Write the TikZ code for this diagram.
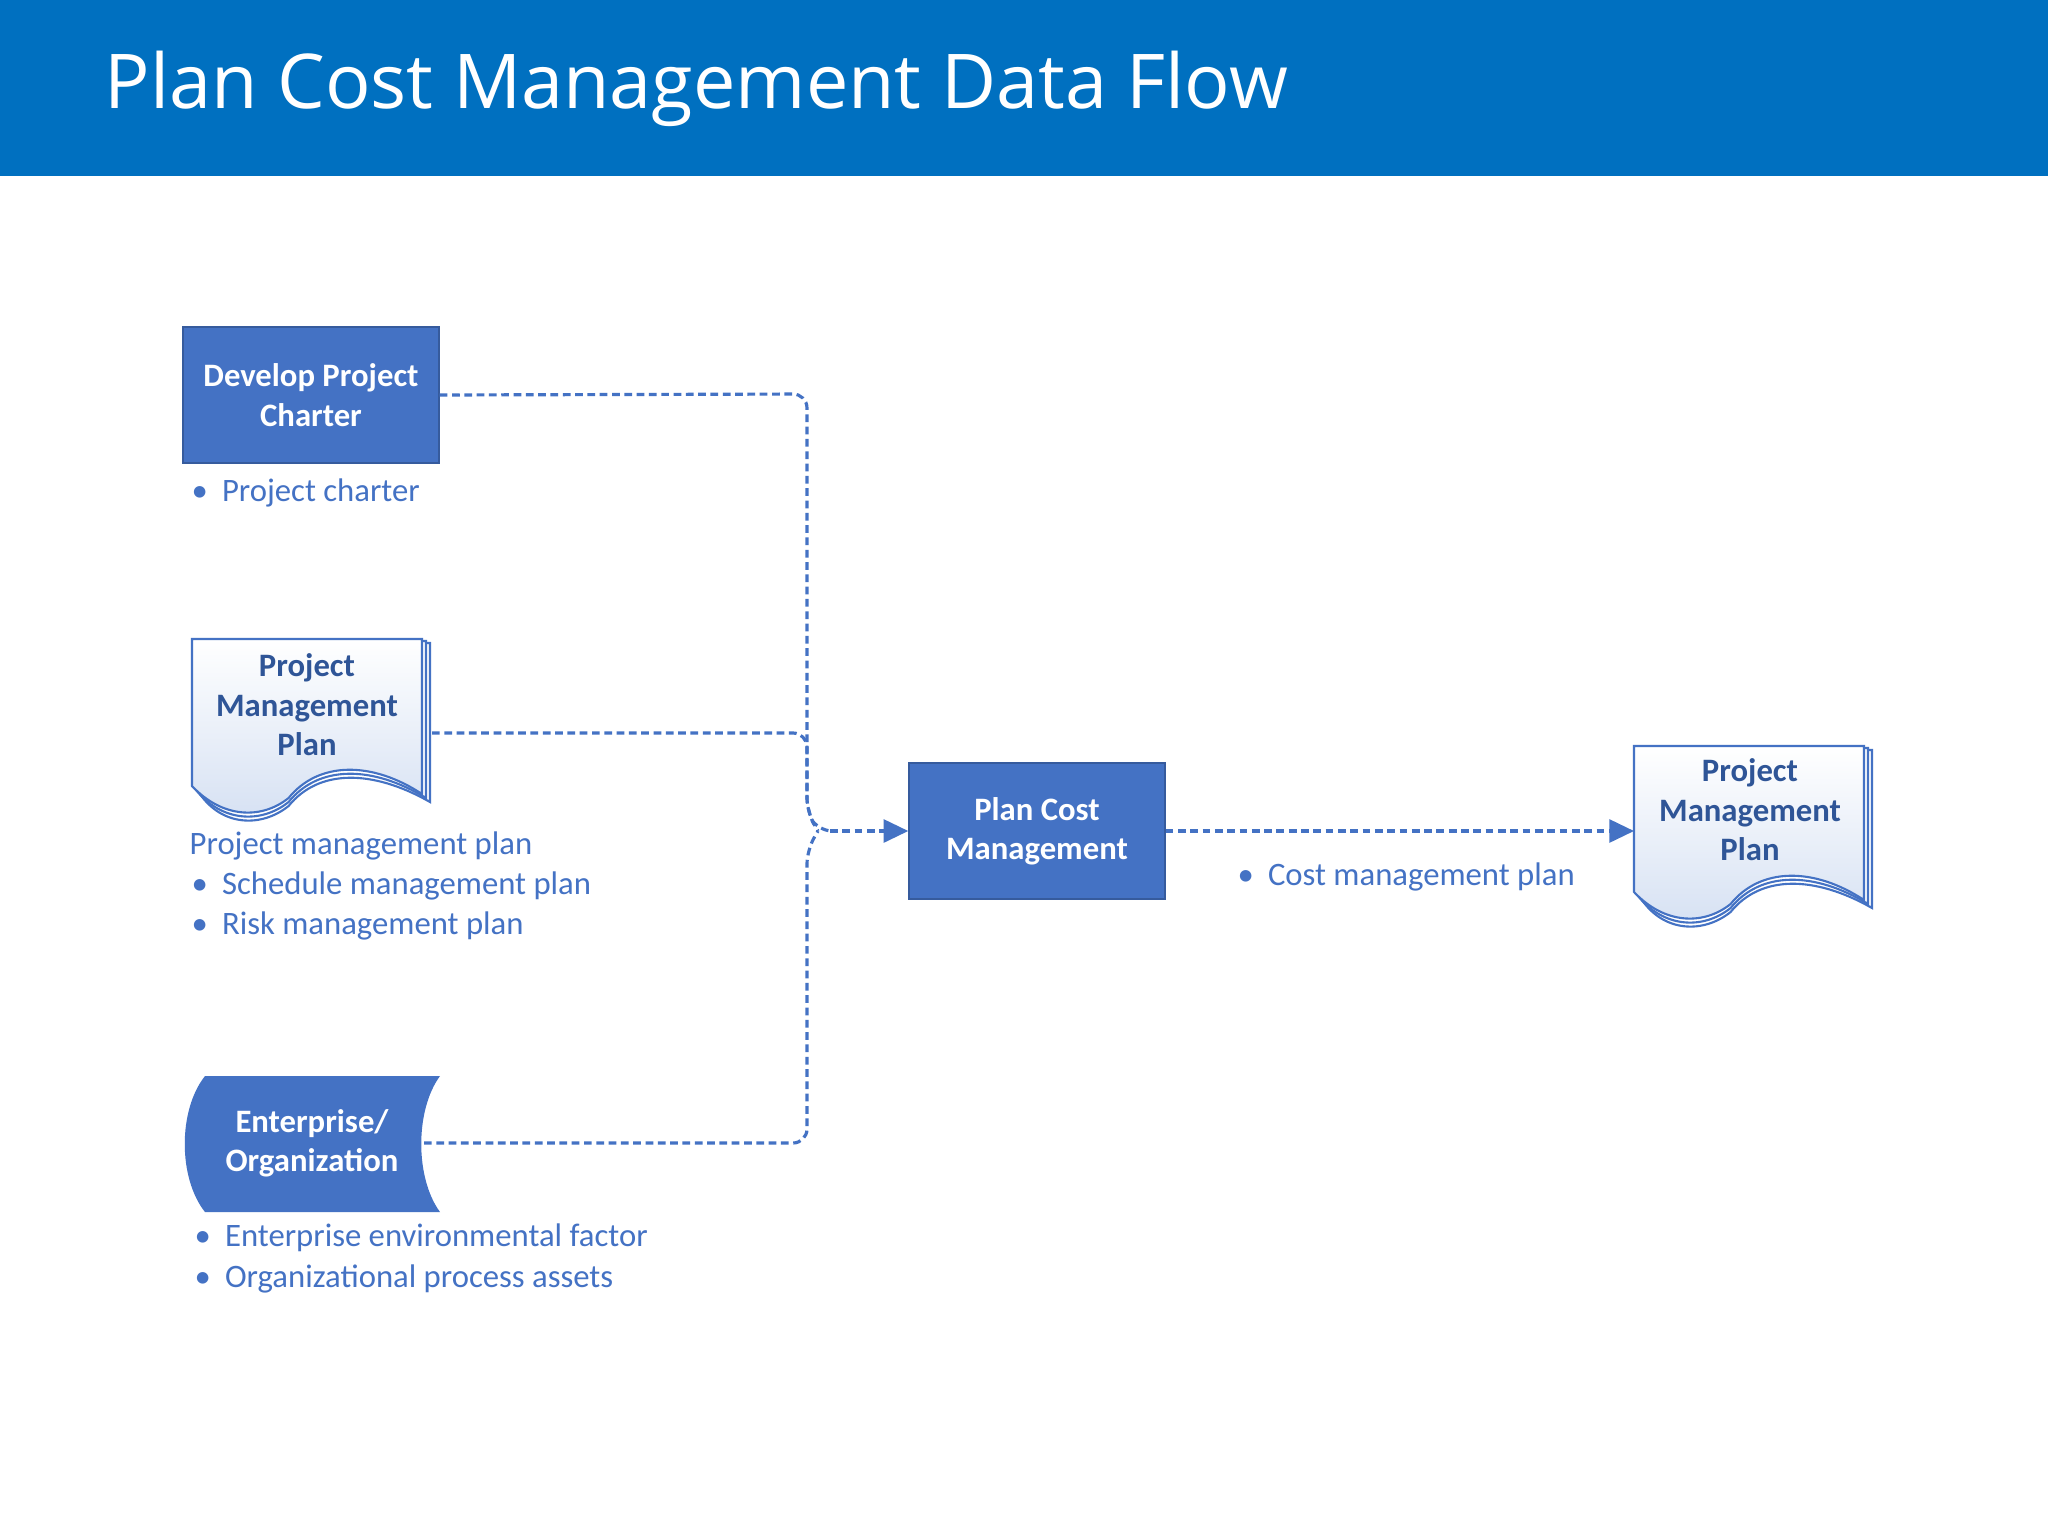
\documentclass[tikz,border=0pt]{standalone}
\usepackage{fontspec}
\setmainfont{Carlito}
\newfontfamily\titlefont{Open Sans}
\usetikzlibrary{arrows.meta}
\definecolor{barblue}{HTML}{0070C0}
\definecolor{boxblue}{HTML}{4472C4}
\definecolor{docblue}{HTML}{2F5597}
\definecolor{lightdoc}{HTML}{D6E1F3}
\tikzset{
  procbox/.style={fill=boxblue,draw=boxblue!80!black,line width=0.4pt,text=white,font=\fontsize{9.3}{11.2}\selectfont\bfseries,align=center,minimum width=256*0.01cm,minimum height=136*0.01cm,inner sep=0pt},
  lbl/.style={text=boxblue,font=\fontsize{9.3}{11.2}\selectfont,anchor=west,inner sep=0pt},
  flow/.style={draw=boxblue,line width=0.9pt,dash pattern=on 2.2pt off 1.3pt,rounded corners=14*0.01cm},
  tip/.style={-{Triangle[length=7pt,width=6.5pt]}},
  doctext/.style={text=docblue,font=\fontsize{9.3}{11.2}\selectfont\bfseries,align=center,inner sep=0pt},
  docedge/.style={draw=boxblue,line width=0.6pt}
}
\newcommand{\docshape}[4]{% x0 y0 x1 y1
  \foreach \o in {8,4}{%
    \path[docedge,fill=white] ({#1+\o},{#2+\o*0.5}) -- ({#3+\o},{#2+\o*0.5}) -- ({#3+\o},{#4-22+\o})
      .. controls ({#3-50},{#4-55+\o}) and ({#1+0.55*(#3-#1)},{#4-55+\o}) .. ({#1+0.42*(#3-#1)},{#4-18+\o})
      .. controls ({#1+0.3*(#3-#1)},{#4+4+\o}) and ({#1+30},{#4+2+\o}) .. ({#1+\o},{#4-30+\o});}
  \path[docedge,top color=white,bottom color=lightdoc] (#1,#2) -- (#3,#2) -- ({#3},{#4-22})
      .. controls ({#3-50},{#4-55}) and ({#1+0.55*(#3-#1)},{#4-55}) .. ({#1+0.42*(#3-#1)},{#4-18})
      .. controls ({#1+0.3*(#3-#1)},{#4+4}) and ({#1+30},{#4+2}) .. ({#1},{#4-30}) -- cycle;
}
\begin{document}
\begin{tikzpicture}[x=0.01cm,y=-0.01cm]
\useasboundingbox (0,0) rectangle (2048,1536);
\fill[white] (0,0) rectangle (2048,1536);
\fill[barblue] (0,0) rectangle (2048,176);
\node[anchor=base west,text=white,font=\titlefont\fontsize{21.5}{26}\selectfont,inner sep=0pt] (title) at (104,108) {Plan Cost Management Data Flow};

% Develop Project Charter
\node[procbox] (dpc) at (311,395) {Develop Project\\Charter};
\node[lbl] (l1) at (191,493) {\textbullet\hspace{4pt}Project charter};

% Project Management Plan (input)
\docshape{192}{639}{422}{816}
\node[doctext] (pmp) at (307,705) {Project\\Management\\Plan};
\coordinate (pmpout) at (432,733);
\node[lbl] (l2) at (189,846) {Project management plan};
\node[lbl] (l3) at (191,886) {\textbullet\hspace{4pt}Schedule management plan};
\node[lbl] (l4) at (191,926) {\textbullet\hspace{4pt}Risk management plan};

% Enterprise/Organization
\path[fill=boxblue] (205,1076) -- (440,1076) .. controls (415,1110) and (415,1178) .. (440,1212)
   -- (205,1212) .. controls (178,1178) and (178,1110) .. (205,1076) -- cycle;
\node[text=white,font=\fontsize{9.3}{11.2}\selectfont\bfseries,align=center] (ent) at (312,1143) {Enterprise/\\Organization};
\coordinate (entout) at (424,1143);
\node[lbl] (l5) at (194,1238) {\textbullet\hspace{4pt}Enterprise environmental factor};
\node[lbl] (l6) at (194,1279) {\textbullet\hspace{4pt}Organizational process assets};

% Plan Cost Management
\node[procbox] (pcm) at (1037,831) {Plan Cost\\Management};

% Output doc
\docshape{1634}{746}{1864}{922}
\node[doctext] (out) at (1750,810) {Project\\Management\\Plan};
\coordinate (outin) at (1634,831);
\node[lbl] (l7) at (1237,877) {\textbullet\hspace{4pt}Cost management plan};

% connectors
\coordinate (bus) at (807,831);
\coordinate (join) at (830,831);
\draw[flow] (dpc.east) -- (807,394) -- (807,812) -- (818,831) -- (join);
\draw[flow] (pmpout) -- (807,733) -- (807,812) -- (818,831);
\draw[flow] (entout) -- (807,1143) -- (807,850) -- (818,831);
\draw[flow,tip] (join) -- (pcm.west);
\draw[flow,tip] (pcm.east) -- (outin);
\end{tikzpicture}
\end{document}
